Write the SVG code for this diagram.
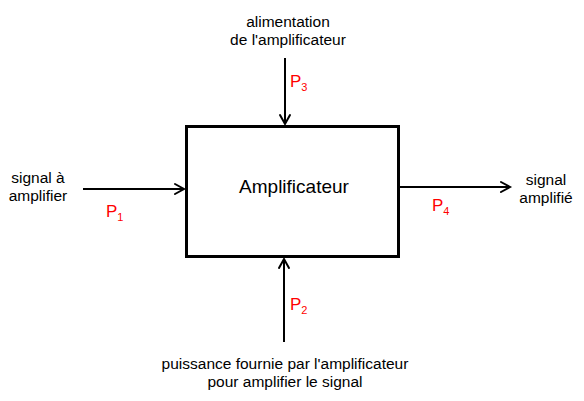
<svg xmlns="http://www.w3.org/2000/svg" width="584" height="401" viewBox="0 0 584 401">
<style>
.t{font-family:"Liberation Sans",Arial,sans-serif;font-size:15.5px;fill:#000;text-anchor:middle}
.p{font-family:"Liberation Sans",Arial,sans-serif;font-size:17px;fill:#ff0000}
.s{font-size:11px}
.ln{stroke:#000;stroke-width:2;fill:none}
.hd{stroke:#000;stroke-width:2;fill:none;stroke-linecap:round;stroke-linejoin:miter}
</style>
<rect width="584" height="401" fill="#fff"/>
<g id="amplificateur">
<rect x="186.5" y="126.5" width="212" height="130" fill="#fff" stroke="#000" stroke-width="3"/>
<text x="294" y="193" class="t" style="font-size:19px">Amplificateur</text>
</g>
<g id="entree">
<text x="38" y="183" class="t">signal à</text>
<text x="38" y="201" class="t">amplifier</text>
</g>
<g id="alimentation">
<text x="288" y="27" class="t">alimentation</text>
<text x="288" y="45" class="t">de l'amplificateur</text>
</g>
<g id="sortie">
<text x="546" y="185" class="t">signal</text>
<text x="546" y="203" class="t">amplifié</text>
</g>
<g id="puissance">
<text x="285" y="369" class="t">puissance fournie par l'amplificateur</text>
<text x="285" y="387" class="t">pour amplifier le signal</text>
</g>
<g id="connecteurs">
<line x1="83" y1="189" x2="184" y2="189" class="ln"/>
<path d="M175 184 L184 189 L175 194" class="hd"/>
<line x1="285" y1="58" x2="285" y2="124" class="ln"/>
<path d="M280 115 L285 124 L290 115" class="hd"/>
<line x1="400" y1="187" x2="510" y2="187" class="ln"/>
<path d="M501 182 L510 187 L501 192" class="hd"/>
<line x1="284" y1="342" x2="284" y2="259" class="ln"/>
<path d="M279 268 L284 259 L289 268" class="hd"/>
<text x="106" y="217" class="p">P<tspan class="s" dy="4">1</tspan></text>
<text x="290" y="87" class="p">P<tspan class="s" dy="4">3</tspan></text>
<text x="290" y="310" class="p">P<tspan class="s" dy="4">2</tspan></text>
<text x="432" y="211" class="p">P<tspan class="s" dy="4">4</tspan></text>
</g>
</svg>
